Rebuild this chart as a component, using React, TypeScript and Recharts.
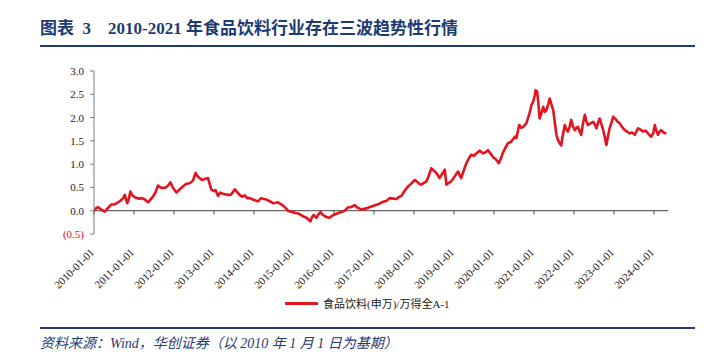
import React from "react";
import { LineChart, Line, XAxis, YAxis, ReferenceLine } from "recharts";

const dates = [
  2010.0, 2010.05, 2010.1, 2010.17, 2010.27, 2010.35, 2010.43, 2010.52, 2010.6, 2010.67,
  2010.73, 2010.77, 2010.83, 2010.87, 2010.91, 2010.96, 2011.02, 2011.08, 2011.14, 2011.2,
  2011.27, 2011.35, 2011.42, 2011.48, 2011.54, 2011.6, 2011.66, 2011.73, 2011.8, 2011.86,
  2011.91, 2011.97, 2012.06, 2012.12, 2012.18, 2012.25, 2012.31, 2012.39, 2012.44, 2012.48,
  2012.54, 2012.59, 2012.64, 2012.7, 2012.77, 2012.85, 2012.89, 2012.93, 2013.0, 2013.04,
  2013.1, 2013.16, 2013.23, 2013.31, 2013.37, 2013.43, 2013.52, 2013.58, 2013.64, 2013.7,
  2013.77, 2013.83, 2013.89, 2013.97, 2014.04, 2014.1, 2014.18, 2014.25, 2014.31, 2014.4,
  2014.48, 2014.55, 2014.6, 2014.67, 2014.73, 2014.8, 2014.85, 2014.92, 2014.97, 2015.04,
  2015.1, 2015.17, 2015.23, 2015.31, 2015.36, 2015.41, 2015.45, 2015.49, 2015.53, 2015.56,
  2015.61, 2015.66, 2015.71, 2015.77, 2015.83, 2015.89, 2015.95, 2016.02, 2016.08, 2016.14,
  2016.21, 2016.27, 2016.35, 2016.43, 2016.52, 2016.58, 2016.68, 2016.75, 2016.81, 2016.9,
  2016.98, 2017.06, 2017.14, 2017.22, 2017.31, 2017.39, 2017.48, 2017.56, 2017.63, 2017.68,
  2017.76, 2017.85, 2017.93, 2018.02, 2018.08, 2018.13, 2018.18, 2018.25, 2018.31, 2018.37,
  2018.43, 2018.5, 2018.56, 2018.64, 2018.7, 2018.77, 2018.81, 2018.87, 2018.93, 2019.02,
  2019.1, 2019.18, 2019.25, 2019.31, 2019.37, 2019.43, 2019.5, 2019.56, 2019.64, 2019.73,
  2019.8, 2019.85, 2019.92, 2019.98, 2020.05, 2020.12, 2020.18, 2020.23, 2020.29, 2020.35,
  2020.43, 2020.52, 2020.56, 2020.63, 2020.68, 2020.73, 2020.81, 2020.89, 2020.94, 2020.98,
  2021.02, 2021.04, 2021.08, 2021.11, 2021.14, 2021.18, 2021.23, 2021.27, 2021.31, 2021.36,
  2021.39, 2021.43, 2021.48, 2021.52, 2021.56, 2021.6, 2021.64, 2021.68, 2021.72, 2021.77,
  2021.81, 2021.85, 2021.89, 2021.93, 2021.97, 2022.02, 2022.06, 2022.1, 2022.14, 2022.18,
  2022.22, 2022.27, 2022.31, 2022.35, 2022.42, 2022.48, 2022.52, 2022.56, 2022.6, 2022.64,
  2022.69, 2022.73, 2022.77, 2022.81, 2022.85, 2022.89, 2022.94, 2022.98, 2023.02, 2023.06,
  2023.1, 2023.14, 2023.2, 2023.27, 2023.33, 2023.39, 2023.45, 2023.52, 2023.56, 2023.6,
  2023.66, 2023.73, 2023.79, 2023.85, 2023.89, 2023.93, 2023.98, 2024.02, 2024.06, 2024.1,
  2024.14, 2024.18, 2024.24, 2024.31,
];

// 食品饮料(申万)/万得全A - 1
const values = [
  0.0, 0.05, 0.08, 0.03, -0.02, 0.06, 0.13, 0.14, 0.18, 0.22,
  0.27, 0.34, 0.16, 0.25, 0.41, 0.33, 0.29, 0.27, 0.26, 0.27,
  0.24, 0.18, 0.25, 0.31, 0.4, 0.54, 0.5, 0.49, 0.5, 0.55,
  0.61, 0.5, 0.39, 0.44, 0.49, 0.54, 0.58, 0.59, 0.62, 0.66,
  0.81, 0.74, 0.7, 0.66, 0.68, 0.7, 0.58, 0.46, 0.42, 0.44,
  0.32, 0.39, 0.36, 0.35, 0.34, 0.35, 0.46, 0.4, 0.34, 0.3,
  0.33, 0.27, 0.27, 0.24, 0.22, 0.2, 0.27, 0.25, 0.24, 0.2,
  0.16, 0.17, 0.18, 0.14, 0.11, 0.05, 0.0, -0.02, -0.03, -0.05,
  -0.06, -0.09, -0.12, -0.15, -0.19, -0.23, -0.14, -0.09, -0.13, -0.15,
  -0.08, -0.03, -0.08, -0.12, -0.14, -0.15, -0.11, -0.08, -0.06, -0.04,
  -0.02, 0.0, 0.07, 0.08, 0.12, 0.07, 0.03, 0.04, 0.05, 0.08,
  0.1, 0.13, 0.15, 0.19, 0.21, 0.27, 0.26, 0.25, 0.3, 0.31,
  0.42, 0.52, 0.58, 0.66, 0.62, 0.58, 0.56, 0.6, 0.63, 0.75,
  0.91, 0.86, 0.81, 0.7, 0.79, 0.88, 0.56, 0.6, 0.63, 0.74,
  0.84, 0.7, 0.88, 1.02, 1.12, 1.2, 1.18, 1.23, 1.29, 1.23,
  1.26, 1.3, 1.22, 1.15, 1.1, 1.02, 1.14, 1.26, 1.36, 1.45,
  1.48, 1.59, 1.56, 1.84, 1.78, 1.8, 1.88, 2.1, 2.28, 2.34,
  2.48, 2.59, 2.55, 2.3, 1.98, 2.08, 2.23, 2.12, 2.16, 2.3,
  2.41, 2.3, 2.16, 1.9, 1.63, 1.52, 1.45, 1.4, 1.62, 1.84,
  1.75, 1.7, 1.8, 1.95, 1.82, 1.73, 1.78, 1.8, 1.7, 1.63,
  1.85, 2.06, 1.92, 1.84, 1.88, 1.91, 1.85, 1.77, 1.88, 1.98,
  1.85, 1.73, 1.58, 1.41, 1.6, 1.77, 1.9, 2.02, 1.98, 1.95,
  1.9, 1.88, 1.8, 1.73, 1.7, 1.66, 1.68, 1.63, 1.7, 1.77,
  1.74, 1.7, 1.72, 1.66, 1.62, 1.59, 1.66, 1.84, 1.72, 1.63,
  1.7, 1.73, 1.68, 1.66,
];

const yearTicks = [2010, 2011, 2012, 2013, 2014, 2015, 2016, 2017, 2018, 2019, 2020, 2021, 2022, 2023, 2024];
const yTicks = [-0.5, 0, 0.5, 1, 1.5, 2, 2.5, 3];

const seriesName = "食品饮料(申万)/万得全A-1";
const navy = "#1f3b73";
const red = "#e5131f";
const serif = '"Liberation Serif", "Times New Roman", "Noto Sans CJK SC", serif';

const data = dates.map((t, i) => ({ t, v: values[i] }));

const YTick = (props: any) => {
  const { x, y, payload } = props;
  const v = payload.value as number;
  const label = v < 0 ? `(${Math.abs(v).toFixed(1)})` : v.toFixed(1);
  return (
    <text x={x - 4} y={y} dy={4} textAnchor="end" fontSize={11} fontFamily={serif} fill={v < 0 ? "#ff0000" : "#222"}>
      {label}
    </text>
  );
};

const XTick = (props: any) => {
  const { x, y, payload } = props;
  const tx = x + 1;
  const ty = y + 11;
  return (
    <text
      x={tx}
      y={ty}
      transform={`rotate(-45, ${tx}, ${ty})`}
      textAnchor="end"
      fontSize={11}
      fontFamily={serif}
      fill="#222"
    >
      {`${payload.value}-01-01`}
    </text>
  );
};

export default function App() {
  return (
    <div style={{ position: "absolute", left: 0, top: 0, width: 710, height: 355, background: "#fff", fontFamily: serif }}>
      <div style={{ position: "absolute", left: 40, top: 14, fontSize: 17, fontWeight: "bold", color: navy, whiteSpace: "nowrap" }}>
        图表&nbsp;&nbsp;3&nbsp;&nbsp;&nbsp;&nbsp;2010-2021 年食品饮料行业存在三波趋势性行情
      </div>
      <div style={{ position: "absolute", left: 40, top: 45, width: 655, height: 2, background: navy }} />

      <div style={{ position: "absolute", left: 0, top: 0 }}>
        <LineChart width={710} height={355} data={data} margin={{ top: 71, right: 42, left: 44, bottom: 71 }}>
          <XAxis
            dataKey="t"
            type="number"
            domain={[2010, 2024.35]}
            ticks={yearTicks}
            allowDataOverflow
            height={50}
            axisLine={false}
            tickLine={false}
            tick={<XTick />}
            interval={0}
          />
          <YAxis
            type="number"
            domain={[-0.5, 3]}
            ticks={yTicks}
            width={50}
            axisLine={{ stroke: "#7f7f7f" }}
            tickLine={{ stroke: "#7f7f7f" }}
            tickSize={4}
            tick={<YTick />}
            interval={0}
          />
          <ReferenceLine y={0} stroke="#404040" strokeWidth={1} />
          {yearTicks.map((yr) => (
            <ReferenceLine
              key={yr}
              segment={[
                { x: yr, y: 0 },
                { x: yr, y: -0.08 },
              ]}
              stroke="#404040"
              strokeWidth={1}
            />
          ))}
          <Line
            type="linear"
            dataKey="v"
            stroke={red}
            strokeWidth={2.6}
            strokeLinejoin="round"
            dot={false}
            isAnimationActive={false}
          />
        </LineChart>
      </div>

      <div style={{ position: "absolute", left: 285, top: 295, display: "flex", alignItems: "center", fontSize: 11, color: "#222" }}>
        <div style={{ width: 33, height: 3, background: red, marginRight: 5 }} />
        <span>{seriesName}</span>
      </div>

      <div style={{ position: "absolute", left: 40, top: 327, width: 655, height: 2, background: navy }} />
      <div style={{ position: "absolute", left: 40, top: 332, fontSize: 14, fontStyle: "italic", color: navy, whiteSpace: "nowrap" }}>
        资料来源：Wind，华创证券（以 2010 年 1 月 1 日为基期）
      </div>
    </div>
  );
}
